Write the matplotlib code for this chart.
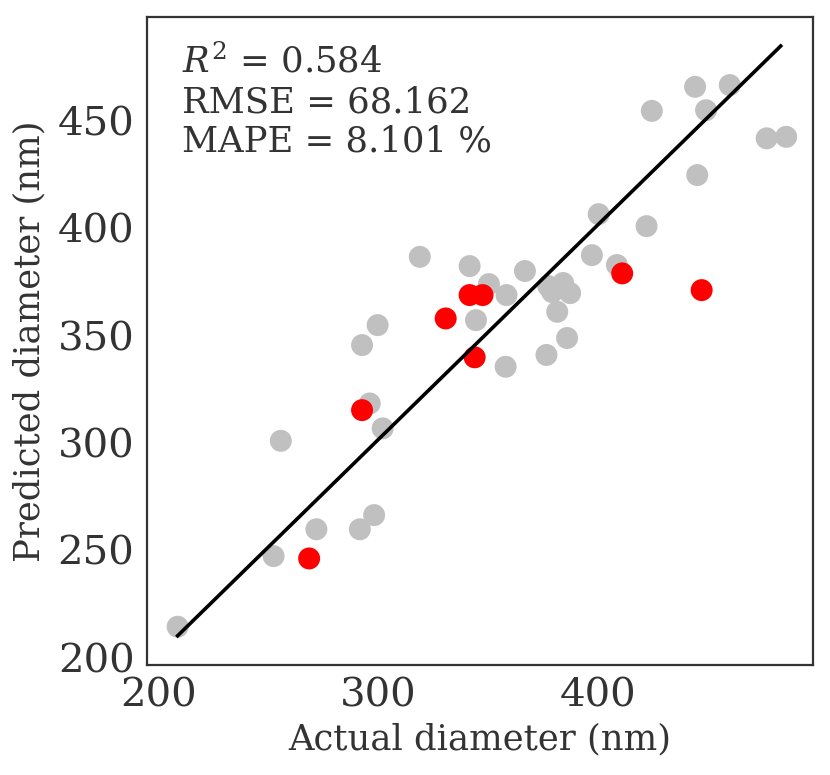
import numpy as np
import matplotlib.pyplot as plt

plt.rcParams['font.family'] = ['DejaVu Serif']
plt.rcParams['mathtext.fontset'] = 'dejavuserif'

# training points (grey)
act_train = [444.4, 460.2, 424.7, 449.4, 477.0, 485.9, 445.4, 400.5, 422.3, 397.4,
             408.8, 319.0, 341.7, 366.9, 350.5, 358.5, 377.5, 384.3, 387.5, 379.3,
             381.6, 299.8, 344.6, 386.1, 292.7, 358.1, 376.7, 296.2, 302.1, 255.7,
             298.2, 271.9, 291.7, 252.4, 208.7]
pred_train = [465.9, 466.7, 454.7, 455.0, 441.9, 442.6, 424.8, 406.6, 401.0, 387.5,
              382.9, 386.7, 382.4, 380.1, 374.0, 368.9, 373.1, 374.5, 369.8, 370.3,
              361.1, 354.9, 357.2, 348.9, 345.6, 335.5, 341.0, 318.4, 306.8, 301.0,
              266.4, 259.8, 259.8, 247.3, 214.4]

# test points (red)
act_test = [411.2, 447.4, 341.7, 347.6, 330.8, 344.0, 292.7, 268.6]
pred_test = [379.0, 371.2, 368.9, 368.9, 358.0, 339.9, 315.3, 246.2]

stats_txt = "$R^2$ = 0.584\nRMSE = 68.162\nMAPE = 8.101 %"

fig = plt.figure(figsize=(8.3, 7.75), dpi=100)
ax = fig.add_axes([0.177, 0.142, 0.803, 0.836])

ax.scatter(act_train, pred_train, s=250, color='#c0c0c0', edgecolors='none', zorder=2)
ax.scatter(act_test, pred_test, s=250, color='#ff0000', edgecolors='none', zorder=3)

allx = np.array(act_train + act_test)
line = np.array([allx.min(), allx.max() - 2.5])
ax.plot(line, line + 1.5, color='black', lw=2.6, zorder=4)

ax.set_xlim(194.7, 498.3)
ax.set_ylim(196.6, 498.4)
ax.set_xticks([200, 300, 400])
ax.set_yticks([200, 250, 300, 350, 400, 450])
ax.tick_params(length=0, labelsize=29, colors='#333333', pad=9)
ax.set_xlabel("Actual diameter (nm)", fontsize=25.5, color='#333333', labelpad=6)
ax.set_ylabel("Predicted diameter (nm)", fontsize=25.5, color='#333333', labelpad=8)

for sp in ax.spines.values():
    sp.set_color('#333333')
    sp.set_linewidth(1.6)

ax.text(0.053, 0.958, stats_txt, transform=ax.transAxes, ha='left', va='top',
        fontsize=25.5, color='#333333', linespacing=1.2)

plt.savefig('out.png', dpi=100)
